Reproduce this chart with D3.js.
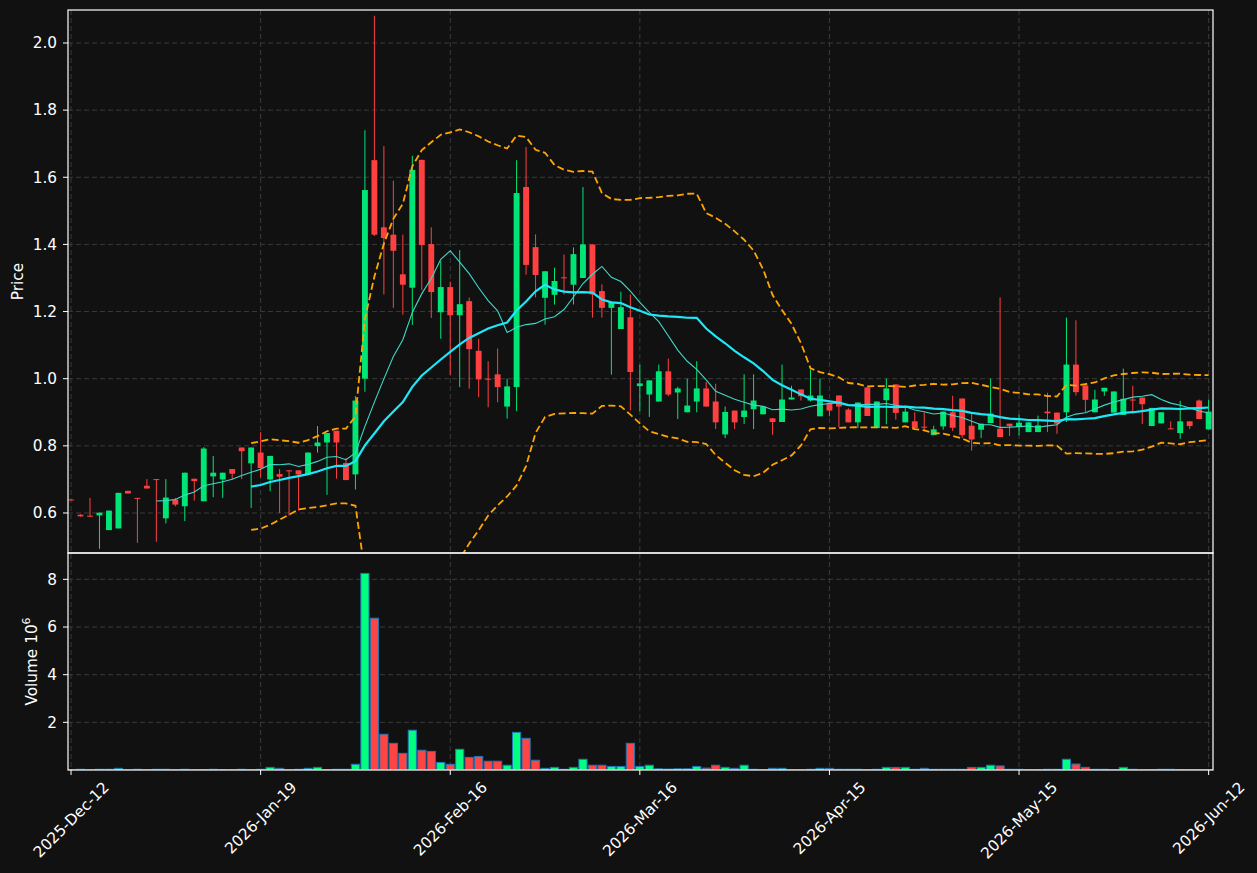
<!DOCTYPE html>
<html lang="en">
<head>
    <meta charset="UTF-8">
    <title>Candles</title>
    <script src="https://d3js.org/d3.v7.min.js"></script>
    <style>
        body { margin: 0; background: #111111; }
        text { font-family: "DejaVu Sans", sans-serif; fill: #ffffff; font-size: 15.3px; }
    </style>
</head>
<body>
    <script>
        const opens = [0.640,0.595,0.592,0.593,0.549,0.554,0.666,0.645,0.681,0.701,
            0.584,0.640,0.620,0.702,0.635,0.709,0.700,0.731,0.795,0.748,
            0.780,0.700,0.716,0.727,0.727,0.715,0.799,0.810,0.845,0.749,
            0.715,1.000,1.651,1.451,1.429,1.311,1.271,1.652,1.401,1.198,
            1.273,1.189,1.231,1.083,1.000,1.013,0.917,0.975,1.571,1.392,
            1.241,1.250,1.302,1.280,1.300,1.400,1.261,1.211,1.148,1.183,
            0.978,0.953,0.932,1.022,0.959,0.900,0.932,0.971,0.932,0.834,
            0.905,0.886,0.909,0.894,0.882,0.871,0.938,0.968,0.935,0.888,
            0.927,0.950,0.908,0.870,0.974,0.853,0.936,0.983,0.870,0.873,
            0.857,0.832,0.858,0.900,0.941,0.860,0.848,0.868,0.851,0.866,
            0.856,0.841,0.841,0.902,0.899,0.900,1.042,0.980,0.900,0.962,
            0.899,0.892,0.938,0.944,0.859,0.867,0.852,0.838,0.873,0.935,
            0.849];
        const highs = [0.641,0.596,0.645,0.601,0.607,0.660,0.666,0.645,0.701,0.701,
            0.701,0.645,0.720,0.702,0.796,0.770,0.720,0.731,0.795,0.795,
            0.841,0.770,0.731,0.727,0.727,0.780,0.859,0.838,0.845,0.764,
            0.948,1.740,2.081,1.693,1.590,1.429,1.664,1.652,1.451,1.351,
            1.289,1.383,1.242,1.119,1.052,1.090,1.000,1.651,1.690,1.430,
            1.320,1.331,1.370,1.391,1.571,1.400,1.281,1.229,1.259,1.251,
            1.042,0.995,1.042,1.060,0.976,1.000,1.052,0.990,0.985,0.917,
            0.905,1.013,1.013,0.917,0.882,1.042,0.979,0.968,1.028,1.000,
            0.927,0.950,0.912,0.929,0.974,0.932,1.000,0.983,0.920,0.900,
            0.900,0.860,0.902,0.949,0.941,0.900,0.866,1.000,1.242,0.866,
            0.893,0.870,0.890,0.958,0.899,1.182,1.174,0.980,0.967,0.973,
            0.962,1.030,0.979,0.944,0.913,0.900,0.873,0.934,0.873,0.938,
            0.938];
        const lows = [0.638,0.589,0.589,0.493,0.549,0.554,0.658,0.511,0.673,0.514,
            0.569,0.620,0.576,0.637,0.635,0.647,0.645,0.700,0.701,0.615,
            0.706,0.665,0.600,0.592,0.607,0.715,0.780,0.654,0.702,0.698,
            0.670,0.961,1.425,1.251,1.211,1.191,1.160,1.264,1.181,1.119,
            1.010,0.975,0.970,0.945,0.915,0.930,0.881,0.903,1.310,1.242,
            1.161,1.221,1.251,1.221,1.300,1.182,1.182,1.012,1.148,0.905,
            0.903,0.886,0.932,0.948,0.880,0.900,0.900,0.917,0.850,0.823,
            0.850,0.865,0.850,0.894,0.833,0.871,0.938,0.935,0.932,0.888,
            0.888,0.856,0.870,0.853,0.889,0.853,0.864,0.878,0.870,0.853,
            0.848,0.832,0.848,0.844,0.824,0.786,0.823,0.868,0.826,0.829,
            0.831,0.841,0.841,0.841,0.836,0.871,0.950,0.900,0.900,0.949,
            0.899,0.892,0.896,0.865,0.859,0.867,0.850,0.821,0.850,0.880,
            0.849];
        const closes = [0.638,0.590,0.590,0.601,0.607,0.660,0.658,0.643,0.673,0.699,
            0.646,0.625,0.720,0.695,0.792,0.720,0.720,0.717,0.784,0.795,
            0.734,0.770,0.708,0.724,0.715,0.780,0.810,0.838,0.810,0.698,
            0.935,1.562,1.429,1.419,1.381,1.280,1.622,1.398,1.258,1.273,
            1.189,1.222,1.088,0.998,0.998,0.975,0.977,1.553,1.339,1.309,
            1.320,1.291,1.300,1.371,1.400,1.251,1.211,1.229,1.213,1.020,
            0.986,0.995,1.022,0.953,0.971,0.920,0.971,0.917,0.870,0.901,
            0.870,0.905,0.935,0.917,0.871,0.938,0.944,0.948,0.950,0.950,
            0.905,0.917,0.870,0.929,0.889,0.932,0.971,0.898,0.902,0.853,
            0.854,0.849,0.902,0.854,0.832,0.819,0.866,0.896,0.826,0.859,
            0.869,0.870,0.861,0.897,0.866,1.042,0.960,0.937,0.938,0.973,
            0.962,0.940,0.936,0.924,0.913,0.900,0.850,0.873,0.859,0.880,
            0.902];
        // volume in millions
        const volumes = [0.01,0.03,0.01,0.03,0.03,0.07,0.01,0.03,0.01,0.03,
            0.03,0.01,0.03,0.01,0.01,0.03,0.01,0.01,0.03,0.01,
            0.03,0.11,0.07,0.01,0.03,0.07,0.11,0.01,0.03,0.03,
            0.24,8.25,6.37,1.50,1.12,0.70,1.67,0.83,0.78,0.32,
            0.24,0.87,0.53,0.57,0.37,0.37,0.20,1.58,1.33,0.41,
            0.07,0.11,0.03,0.11,0.45,0.20,0.20,0.15,0.15,1.12,
            0.15,0.20,0.05,0.04,0.05,0.05,0.15,0.08,0.20,0.11,
            0.07,0.20,0.03,0.01,0.07,0.07,0.01,0.01,0.03,0.07,
            0.07,0.03,0.03,0.03,0.01,0.03,0.11,0.11,0.11,0.03,
            0.07,0.03,0.03,0.03,0.03,0.11,0.11,0.20,0.17,0.03,
            0.03,0.01,0.01,0.03,0.03,0.45,0.25,0.11,0.03,0.03,
            0.01,0.11,0.03,0.01,0.01,0.03,0.03,0.01,0.01,0.01,
            0.01];

        const tickIdx = [0, 20, 40, 60, 80, 100, 120];
        const tickLabels = ["2025-Dec-12", "2026-Jan-19", "2026-Feb-16", "2026-Mar-16", "2026-Apr-15", "2026-May-15", "2026-Jun-12"];
        const priceTicks = [0.6, 0.8, 1.0, 1.2, 1.4, 1.6, 1.8, 2.0];
        const volTicks = [2, 4, 6, 8];
        const maPeriods = [10, 20];
        const bbPeriod = 20, bbDev = 2;

        const width = 1257, height = 873;
        const left = 68, right = 1213, pTop = 10, pBot = 553, vBot = 770;
        const upColor = "#00e676", downColor = "#ff4040";
        const upVol = "#00ff7f", downVol = "#ff4444";
        const gridColor = "#3a3a3a";

        const svg = d3.select("body").append("svg")
            .attr("width", width)
            .attr("height", height);

        svg.append("rect").attr("width", width).attr("height", height).attr("fill", "#111111");

        const candles = closes.map((c, i) => ({ i, o: opens[i], h: highs[i], l: lows[i], c, v: volumes[i], up: c >= opens[i] }));

        const x = d3.scaleLinear().domain([-0.32, 120.46]).range([left, right]);
        const y = d3.scaleLinear().domain([0.4808, 2.0983]).range([pBot, pTop]);
        const yv = d3.scaleLinear().domain([0, 9.106]).range([vBot, pBot]);
        const step = x(1) - x(0);

        const defs = svg.append("defs");
        defs.append("clipPath").attr("id", "clipP").append("rect")
            .attr("x", left).attr("y", pTop).attr("width", right - left).attr("height", pBot - pTop);
        defs.append("clipPath").attr("id", "clipV").append("rect")
            .attr("x", left).attr("y", pBot).attr("width", right - left).attr("height", vBot - pBot);

        // grid
        const grid = svg.append("g").attr("stroke", gridColor).attr("stroke-dasharray", "5,3").attr("stroke-width", 1);
        grid.selectAll(".gp").data(priceTicks).enter().append("line")
            .attr("x1", left).attr("x2", right).attr("y1", d => y(d)).attr("y2", d => y(d));
        grid.selectAll(".gv").data(volTicks).enter().append("line")
            .attr("x1", left).attr("x2", right).attr("y1", d => yv(d)).attr("y2", d => yv(d));
        grid.selectAll(".gx").data(tickIdx).enter().append("line")
            .attr("x1", d => x(d)).attr("x2", d => x(d)).attr("y1", pTop).attr("y2", vBot);

        // candles
        const cg = svg.append("g").attr("clip-path", "url(#clipP)");
        cg.selectAll(".wick").data(candles).enter().append("line")
            .attr("x1", d => x(d.i)).attr("x2", d => x(d.i))
            .attr("y1", d => y(d.h)).attr("y2", d => y(d.l))
            .attr("stroke", d => d.up ? upColor : downColor)
            .attr("stroke-width", 1);
        const bw = step * 0.62;
        cg.selectAll(".body").data(candles).enter().append("rect")
            .attr("x", d => x(d.i) - bw / 2)
            .attr("width", bw)
            .attr("y", d => y(Math.max(d.o, d.c)))
            .attr("height", d => Math.max(1, Math.abs(y(d.o) - y(d.c))))
            .attr("fill", d => d.up ? upColor : downColor);

        // moving averages and bollinger bands from closes
        function rolling(n) {
            return closes.map((c, i) => {
                if (i < n - 1) return null;
                const w = closes.slice(i - n + 1, i + 1);
                return { i, m: d3.mean(w), s: d3.deviation(w) };
            }).filter(d => d);
        }
        const line = d3.line().x(d => x(d[0])).y(d => y(d[1]));

        const bb = rolling(bbPeriod);
        [1, -1].forEach(k => {
            cg.append("path")
                .attr("d", line(bb.map(d => [d.i, d.m + k * bbDev * d.s])))
                .attr("fill", "none").attr("stroke", "#ffa500")
                .attr("stroke-width", 1.8).attr("stroke-dasharray", "7,3.5");
        });
        cg.append("path")
            .attr("d", line(rolling(maPeriods[0]).map(d => [d.i, d.m])))
            .attr("fill", "none").attr("stroke", "#3fd8c8").attr("stroke-width", 1.1);
        cg.append("path")
            .attr("d", line(rolling(maPeriods[1]).map(d => [d.i, d.m])))
            .attr("fill", "none").attr("stroke", "#1ee8f8").attr("stroke-width", 2.2);

        // volume
        const vg = svg.append("g").attr("clip-path", "url(#clipV)");
        const vw = step * 0.86;
        vg.selectAll(".vol").data(candles).enter().append("rect")
            .attr("x", d => x(d.i) - vw / 2)
            .attr("width", vw)
            .attr("y", d => yv(d.v))
            .attr("height", d => yv(0) - yv(d.v))
            .attr("fill", d => d.up ? upVol : downVol)
            .attr("stroke", "#1f77b4").attr("stroke-width", 1);

        // frame
        const frame = svg.append("g").attr("stroke", "#ffffff").attr("stroke-width", 1.2).attr("fill", "none");
        frame.append("rect").attr("x", left).attr("y", pTop).attr("width", right - left).attr("height", pBot - pTop);
        frame.append("rect").attr("x", left).attr("y", pBot).attr("width", right - left).attr("height", vBot - pBot);

        // y axes
        const ticks = svg.append("g");
        priceTicks.forEach(t => {
            ticks.append("line").attr("x1", left - 5).attr("x2", left).attr("y1", y(t)).attr("y2", y(t)).attr("stroke", "#fff");
            ticks.append("text").attr("x", left - 11).attr("y", y(t)).attr("dy", "0.35em")
                .attr("text-anchor", "end").text(t.toFixed(1));
        });
        volTicks.forEach(t => {
            ticks.append("line").attr("x1", left - 5).attr("x2", left).attr("y1", yv(t)).attr("y2", yv(t)).attr("stroke", "#fff");
            ticks.append("text").attr("x", left - 11).attr("y", yv(t)).attr("dy", "0.35em")
                .attr("text-anchor", "end").text(t);
        });

        // x axis
        tickIdx.forEach((t, k) => {
            ticks.append("line").attr("x1", x(t)).attr("x2", x(t)).attr("y1", vBot).attr("y2", vBot + 5).attr("stroke", "#fff");
            const lab = ticks.append("text").attr("text-anchor", "middle").attr("dy", "0.35em").text(tickLabels[k]);
            const len = lab.node().getComputedTextLength();
            const cy = vBot + 10 + (len + 13) / (2 * Math.SQRT2);
            lab.attr("transform", `translate(${x(t)},${cy}) rotate(-45)`);
        });

        svg.append("text").attr("transform", `translate(23,${(pTop + pBot) / 2}) rotate(-90)`)
            .attr("text-anchor", "middle").text("Price");
        const vl = svg.append("text").attr("transform", `translate(37,${(pBot + vBot) / 2}) rotate(-90)`)
            .attr("text-anchor", "middle");
        vl.append("tspan").text("Volume  10");
        vl.append("tspan").attr("font-size", "11px").attr("dy", "-0.6em").text("6");
    </script>
</body>
</html>
